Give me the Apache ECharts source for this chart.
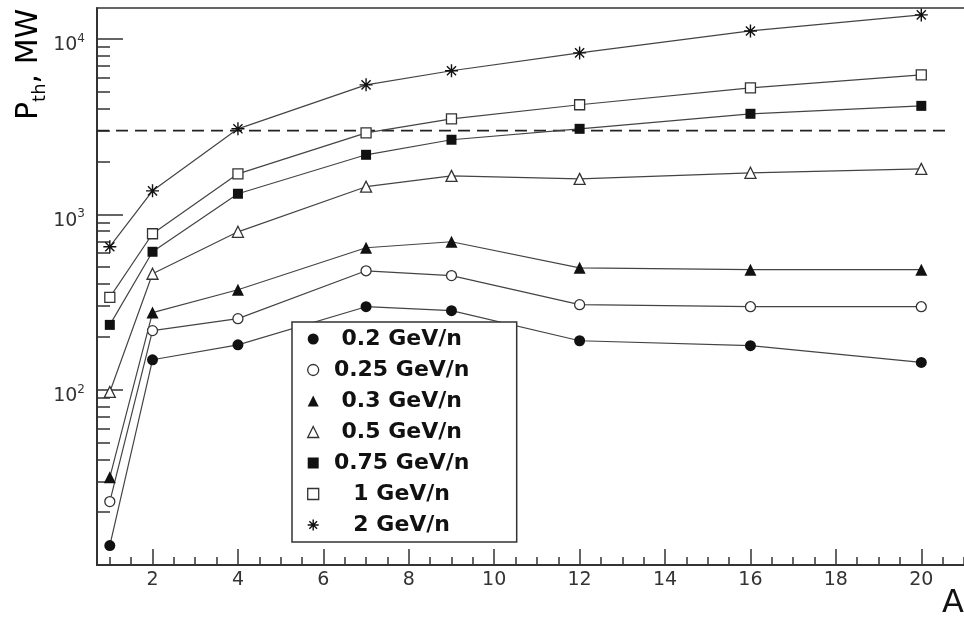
<!DOCTYPE html>
<html>
<head>
<meta charset="utf-8">
<script src="https://cdn.jsdelivr.net/npm/echarts@6/dist/echarts.min.js"></script>
<style>
  html, body { margin: 0; padding: 0; background: #fff; }
  #chart { width: 964px; height: 622px; }
</style>
</head>
<body>
<div id="chart"></div>
<script>
// Mass number A of the projectile
const massNumbers = [1, 2, 4, 7, 9, 12, 16, 20];

// Threshold power P_th (MW) for each beam energy
const p02GeV  = [12.9, 148, 180, 297, 282, 190, 178, 143];
const p025GeV = [23, 217, 254, 476, 447, 305, 297, 297];
const p03GeV  = [31.6, 275, 371, 644, 697, 495, 483, 483];
const p05GeV  = [97, 458, 794, 1436, 1656, 1592, 1723, 1815];
const p075GeV = [234, 611, 1309, 2183, 2660, 3070, 3740, 4150];
const p1GeV   = [336, 774, 1700, 2910, 3500, 4210, 5260, 6240];
const p2GeV   = [653, 1360, 3070, 5470, 6580, 8320, 11100, 13700];

const seriesNames = ['0.2 GeV/n', '0.25 GeV/n', '0.3 GeV/n', '0.5 GeV/n', '0.75 GeV/n', '1 GeV/n', '2 GeV/n'];

// Horizontal reference level (MW) and the A range it spans
const thresholdLevel = 3000;
const thresholdSpan = [0.7, 20.6];

// Axis ticks
const xMajorTicks = [2, 4, 6, 8, 10, 12, 14, 16, 18, 20];
const xMinorTicks = [];
for (let v = 1; v <= 21; v += 0.5) xMinorTicks.push(v);
const yMajorTicks = [10, 100, 1000, 10000];
const yLabelTicks = [100, 1000, 10000];
const yMinorTicks = [];
[10, 100, 1000].forEach(d => { for (let k = 2; k <= 9; k++) yMinorTicks.push(k * d); });

const FONT = 'DejaVu Sans';
const LINE = '#444';
const INK = '#111';

const asterisk = 'path://M0,5L10,5M5,0L5,10M1.5,1.5L8.5,8.5M8.5,1.5L1.5,8.5';

const markers = [
  { symbol: 'circle',   size: 11, style: { color: INK } },
  { symbol: 'circle',   size: 10, style: { color: '#fff', borderColor: '#333', borderWidth: 1.3 } },
  { symbol: 'triangle', size: 12, style: { color: INK } },
  { symbol: 'triangle', size: 11, style: { color: '#fff', borderColor: '#333', borderWidth: 1.3 } },
  { symbol: 'rect',     size: 10, style: { color: INK } },
  { symbol: 'rect',     size: 10, style: { color: '#fff', borderColor: '#333', borderWidth: 1.3 } },
  { symbol: asterisk,   size: 13, style: { color: 'rgba(0,0,0,0)', borderColor: INK, borderWidth: 1.4 } }
];

const values = [p02GeV, p025GeV, p03GeV, p05GeV, p075GeV, p1GeV, p2GeV];

const dataSeries = values.map((vals, i) => ({
  name: seriesNames[i],
  type: 'line',
  xAxisIndex: 0,
  yAxisIndex: 0,
  data: massNumbers.map((a, j) => [a, vals[j]]),
  symbol: markers[i].symbol,
  symbolSize: markers[i].size,
  itemStyle: markers[i].style,
  lineStyle: { color: LINE, width: 1.2 },
  z: 3
}));

const thresholdSeries = {
  name: 'threshold',
  type: 'line',
  xAxisIndex: 0,
  yAxisIndex: 0,
  data: thresholdSpan.map(a => [a, thresholdLevel]),
  symbol: 'none',
  lineStyle: { color: '#222', width: 1.8, type: [12, 7] },
  z: 2,
  silent: true
};

const xBase = { type: 'value', min: 0.7, max: 21, splitLine: { show: false } };
const yBase = { type: 'log', logBase: 10, min: 10, max: 15000, splitLine: { show: false } };

const option = {
  animation: false,
  backgroundColor: '#fff',
  grid: { left: 97, right: 0, top: 8, bottom: 57, containLabel: false },
  xAxis: [
    Object.assign({}, xBase, {
      position: 'bottom',
      axisLine: { show: true, onZero: false, lineStyle: { color: '#333', width: 2 } },
      axisTick: { show: true, inside: true, length: 16, customValues: xMajorTicks, lineStyle: { color: '#333', width: 1.5 } },
      axisLabel: { show: true, customValues: xMajorTicks, margin: 6, fontFamily: FONT, fontSize: 19, color: '#333' }
    }),
    Object.assign({}, xBase, {
      position: 'bottom',
      axisLine: { show: false, onZero: false },
      axisTick: { show: true, inside: true, length: 8, customValues: xMinorTicks, lineStyle: { color: '#333', width: 1.5 } },
      axisLabel: { show: false }
    }),
    Object.assign({}, xBase, {
      position: 'top',
      axisLine: { show: true, onZero: false, lineStyle: { color: '#333', width: 1.6 } },
      axisTick: { show: false },
      axisLabel: { show: false }
    })
  ],
  yAxis: [
    Object.assign({}, yBase, {
      position: 'left',
      axisLine: { show: true, onZero: false, lineStyle: { color: '#333', width: 2 } },
      axisTick: { show: true, inside: true, length: 26, customValues: yMajorTicks, lineStyle: { color: '#333', width: 1.5 } },
      axisLabel: {
        show: true,
        customValues: yLabelTicks,
        margin: 12,
        formatter: v => '{b|10}{s|' + Math.round(Math.log10(v)) + '}',
        rich: {
          b: { fontFamily: FONT, fontSize: 19, color: '#333', lineHeight: 32, verticalAlign: 'bottom' },
          s: { fontFamily: FONT, fontSize: 12, color: '#333', lineHeight: 32, verticalAlign: 'middle' }
        }
      }
    }),
    Object.assign({}, yBase, {
      position: 'left',
      axisLine: { show: false, onZero: false },
      axisTick: { show: true, inside: true, length: 13, customValues: yMinorTicks, lineStyle: { color: '#333', width: 1.5 } },
      axisLabel: { show: false }
    })
  ],
  legend: {
    orient: 'vertical',
    left: 292,
    top: 322,
    padding: [6, 37, 6, 15],
    itemGap: 9,
    itemWidth: 11,
    itemHeight: 11,
    backgroundColor: '#fff',
    borderColor: '#333',
    borderWidth: 1.5,
    borderRadius: 0,
    selectedMode: false,
    z: 10,
    data: seriesNames.map((name, i) => ({
      name: name,
      icon: markers[i].symbol,
      itemStyle: markers[i].style
    })),
    formatter: name => '{c|' + name + '}',
    textStyle: {
      fontFamily: FONT, fontWeight: 'bold', fontSize: 22, color: INK,
      rich: {
        c: { width: 156, align: 'center', fontFamily: FONT, fontWeight: 'bold', fontSize: 22, lineHeight: 22, color: INK }
      }
    }
  },
  graphic: [
    {
      type: 'text',
      x: 29,
      y: 120,
      rotation: Math.PI / 2,
      style: {
        text: '{p|P}{s|th}{p|, MW}',
        align: 'left',
        verticalAlign: 'middle',
        rich: {
          p: { fontFamily: FONT, fontSize: 30, color: INK, lineHeight: 40, verticalAlign: 'middle' },
          s: { fontFamily: FONT, fontSize: 18, color: INK, lineHeight: 40, verticalAlign: 'bottom' }
        }
      }
    },
    {
      type: 'text',
      x: 942,
      y: 620,
      style: { text: 'A', fontFamily: FONT, fontSize: 32, fill: INK, align: 'left', verticalAlign: 'bottom' }
    }
  ],
  series: dataSeries.concat([thresholdSeries])
};

echarts.init(document.getElementById('chart'), null, { renderer: 'canvas' }).setOption(option);
</script>
</body>
</html>
